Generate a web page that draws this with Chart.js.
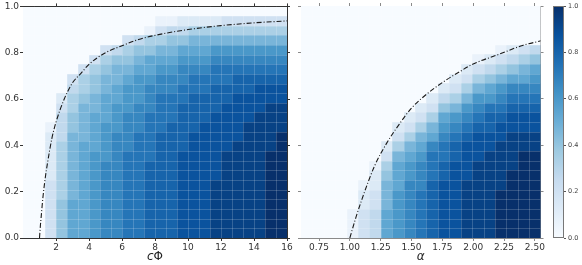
<!DOCTYPE html>
<html>
<head>
<meta charset="utf-8">
<script src="https://cdn.jsdelivr.net/npm/chart.js@4.4.1/dist/chart.umd.min.js"></script>
<style>
  body { margin: 0; background: #fff; }
  #wrap { position: relative; width: 582px; height: 265px; overflow: hidden; }
  #wrap canvas { position: absolute; top: 0; }
</style>
</head>
<body>
<div id="wrap">
  <canvas id="leftChart" width="296" height="265" style="left:0"></canvas>
  <canvas id="rightChart" width="250" height="265" style="left:296px"></canvas>
  <canvas id="barChart" width="36" height="265" style="left:546px"></canvas>
</div>
<script>
// cell centres (x) for both panels, shared row centres (y)
const cPhiCenters = [0.33, 1, 1.67, 2.33, 3, 3.67, 4.33, 5, 5.67, 6.33, 7, 7.67, 8.33, 9, 9.67, 10.33, 11, 11.67, 12.33, 13, 13.67, 14.33, 15, 15.67];
const alphaCenters = [0.65, 0.7425, 0.835, 0.9275, 1.02, 1.1125, 1.205, 1.2975, 1.39, 1.4825, 1.575, 1.6675, 1.76, 1.8525, 1.945, 2.0375, 2.13, 2.2225, 2.315, 2.4075, 2.5];
const yCenters = [0.021, 0.063, 0.104, 0.146, 0.188, 0.229, 0.271, 0.313, 0.354, 0.396, 0.438, 0.479, 0.521, 0.563, 0.604, 0.646, 0.688, 0.729, 0.771, 0.813, 0.854, 0.896, 0.938, 0.979];

// cell values, one hex digit per cell (0..f -> 0..1), top row first
const cPhiRows = [
  '000000000000000000000000',
  '000000000000112222333333',
  '000000000001344555555555',
  '000000000345566777777777',
  '000000034566778889999999',
  '00000035667888999aaaaaaa',
  '00000356778899aaabbbbbbb',
  '000035677899aaabbbbccccc',
  '00004567899aaabbbccccddd',
  '00025678899abbbccccddddd',
  '0003577899aabbccccddddee',
  '000467889aabbbcccddddeee',
  '001467899aabbcccddddeeee',
  '00247789aabbcccdddddeeef',
  '00257889aabbcccddddeeeef',
  '00257899abbbccddddeeeeff',
  '0025789aabbcccddddeeeeff',
  '0025789aabbcccddddeeeeff',
  '0035789aabbcccdddeeeeeff',
  '0035789aabbcccdddeeeeeff',
  '0036889aabbcccdddeeeeeff',
  '0036889aabbcccdddeeeeeff',
  '0036889aabbcccdddeeeeeff',
  '0036889aabbcccdddeeeeeff'
];
const alphaRows = [
  '000000000000000000000',
  '000000000000000000000',
  '000000000000000000000',
  '000000000000000000000',
  '000000000000000001234',
  '000000000000000123456',
  '000000000000002345678',
  '000000000000023567889',
  '000000000000235789aaa',
  '00000000000245799abbb',
  '000000000023679abbccc',
  '00000000023589abccddd',
  '0000000023579abccdddd',
  '000000003578abcdddeee',
  '00000002578abcdddeeee',
  '00000003789bbcddeeeff',
  '0000001589abcddeeeeff',
  '0000002689abcddeeefff',
  '000001278aacddeeeefff',
  '000002379abcddeeeffff',
  '000002379abcddeeeffff',
  '000013489abcddeeeffff',
  '000013489abcddeeeffff',
  '000013489abcddeeeffff'
];

// dash-dot boundary curves
const cPhiCurveX = [1.0, 1.05, 1.1, 1.2, 1.35, 1.5, 1.75, 2, 2.5, 3, 3.5, 4, 5, 6, 7, 8, 10, 12, 14, 16];
const cPhiCurveY = [0, 0.05, 0.09, 0.17, 0.26, 0.33, 0.43, 0.5, 0.6, 0.67, 0.71, 0.75, 0.8, 0.83, 0.857, 0.875, 0.9, 0.917, 0.929, 0.9375];
const alphaCurveX = [1.0, 1.05, 1.1, 1.2, 1.3, 1.4, 1.5, 1.6, 1.75, 1.9, 2.0, 2.2, 2.4, 2.55];
const alphaCurveY = [0, 0.09, 0.17, 0.31, 0.41, 0.49, 0.56, 0.61, 0.67, 0.72, 0.75, 0.79, 0.83, 0.85];

// tick labels
const cPhiTicks = [2, 4, 6, 8, 10, 12, 14, 16];
const alphaTicks = [0.75, 1.0, 1.25, 1.5, 1.75, 2.0, 2.25, 2.5];
const yTicks = [0, 0.2, 0.4, 0.6, 0.8, 1.0];

const FONT = 'DejaVu Sans';
const bluesStops = ['#f7fbff', '#deebf7', '#c6dbef', '#9ecae1', '#6baed6', '#4292c6', '#2171b5', '#08519c', '#08306b'];

function hexRgb(h) {
  return [parseInt(h.slice(1, 3), 16), parseInt(h.slice(3, 5), 16), parseInt(h.slice(5, 7), 16)];
}
function blues(t) {
  t = Math.max(0, Math.min(1, t));
  const p = t * (bluesStops.length - 1);
  const i = Math.min(Math.floor(p), bluesStops.length - 2);
  const f = p - i;
  const a = hexRgb(bluesStops[i]), b = hexRgb(bluesStops[i + 1]);
  const c = a.map((v, k) => Math.round(v + (b[k] - v) * f));
  return `rgb(${c[0]},${c[1]},${c[2]})`;
}
function edgesOf(centers) {
  const e = [centers[0] - (centers[1] - centers[0]) / 2];
  for (let i = 0; i < centers.length - 1; i++) e.push((centers[i] + centers[i + 1]) / 2);
  const n = centers.length;
  e.push(centers[n - 1] + (centers[n - 1] - centers[n - 2]) / 2);
  return e;
}

// draws the cells through the chart's own x / y scales
const heatmapPlugin = {
  id: 'heatmap',
  beforeDatasetsDraw(chart, args, opts) {
    if (!opts.rows) return;
    const { ctx, chartArea: a, scales: { x, y } } = chart;
    const xe = edgesOf(opts.cols).map(v => Math.round(x.getPixelForValue(v)));
    const ye = edgesOf(opts.ys).map(v => Math.round(y.getPixelForValue(v)));
    ctx.save();
    ctx.beginPath();
    ctx.rect(a.left, a.top, a.right - a.left, a.bottom - a.top);
    ctx.clip();
    const nr = opts.ys.length;
    opts.rows.forEach((row, k) => {
      const r = nr - 1 - k;
      for (let c = 0; c < opts.cols.length; c++) {
        ctx.fillStyle = blues(parseInt(row[c], 16) / 15);
        ctx.fillRect(xe[c], ye[r + 1], xe[c + 1] - xe[c], ye[r] - ye[r + 1]);
      }
    });
    ctx.strokeStyle = 'rgba(255,255,255,0.18)';
    ctx.lineWidth = 1;
    ctx.beginPath();
    xe.slice(1, -1).forEach(px => { ctx.moveTo(px + 0.5, a.top); ctx.lineTo(px + 0.5, a.bottom); });
    ye.slice(1, -1).forEach(py => { ctx.moveTo(a.left, py + 0.5); ctx.lineTo(a.right, py + 0.5); });
    ctx.stroke();
    ctx.restore();
  }
};

// x axis label with mixed italic / upright parts
const axisLabelPlugin = {
  id: 'axisLabel',
  afterDraw(chart, args, opts) {
    if (!opts.parts) return;
    const { ctx, chartArea: a } = chart;
    ctx.save();
    ctx.fillStyle = '#222';
    ctx.textBaseline = 'middle';
    const fonts = opts.parts.map(p => `${p.italic ? 'italic ' : ''}${opts.size}px "${FONT}"`);
    let total = 0;
    const widths = opts.parts.map((p, i) => { ctx.font = fonts[i]; const w = ctx.measureText(p.text).width; total += w; return w; });
    let xPos = (a.left + a.right) / 2 - total / 2;
    opts.parts.forEach((p, i) => {
      ctx.font = fonts[i];
      ctx.fillText(p.text, xPos, opts.y);
      xPos += widths[i];
    });
    ctx.restore();
  }
};

const colorbarPlugin = {
  id: 'colorbar',
  beforeDatasetsDraw(chart, args, opts) {
    if (!opts.on) return;
    const { ctx, chartArea: a, scales: { y } } = chart;
    const g = ctx.createLinearGradient(0, y.getPixelForValue(0), 0, y.getPixelForValue(1));
    bluesStops.forEach((c, i) => g.addColorStop(i / (bluesStops.length - 1), c));
    ctx.save();
    ctx.fillStyle = g;
    ctx.fillRect(a.left, a.top, a.right - a.left, a.bottom - a.top);
    ctx.strokeStyle = '#777';
    ctx.lineWidth = 1;
    ctx.strokeRect(a.left + 0.5, a.top + 0.5, a.right - a.left - 1, a.bottom - a.top - 1);
    ctx.restore();
  }
};

Chart.register(heatmapPlugin, axisLabelPlugin, colorbarPlugin);

function tickAxis(pos, min, max, ticks, size, showLabels, fmt, col) {
  const horizontal = pos === 'top' || pos === 'bottom';
  return {
    type: 'linear',
    position: pos,
    min: min,
    max: max,
    afterBuildTicks: s => { s.ticks = ticks.map(v => ({ value: v })); },
    afterFit: s => { if (horizontal) s.height = size; else s.width = size; },
    ticks: {
      display: showLabels,
      autoSkip: false,
      maxRotation: 0,
      padding: 1,
      color: '#333',
      font: { family: FONT, size: 9 },
      callback: v => fmt(v)
    },
    grid: { drawOnChartArea: false, drawTicks: true, tickLength: 3, color: col, lineWidth: 1 },
    border: { display: true, color: col, width: 1 }
  };
}

function curvePoints(xs, ys) {
  return xs.map((v, i) => ({ x: v, y: ys[i] }));
}

function panel(id, cfg) {
  return new Chart(document.getElementById(id), {
    type: 'scatter',
    data: {
      datasets: [{
        data: curvePoints(cfg.curveX, cfg.curveY),
        showLine: true,
        borderColor: '#1a1a1a',
        borderWidth: 1.1,
        borderDash: [5, 2, 1, 2],
        pointRadius: 0,
        cubicInterpolationMode: 'monotone',
        fill: false
      }]
    },
    options: {
      responsive: false,
      animation: false,
      devicePixelRatio: 1,
      layout: { padding: cfg.padding },
      plugins: {
        legend: { display: false },
        tooltip: { enabled: false },
        heatmap: { rows: cfg.rows, cols: cfg.cols, ys: yCenters },
        axisLabel: { parts: cfg.label, size: 12, y: 257 }
      },
      scales: {
        x: tickAxis('bottom', cfg.xmin, cfg.xmax, cfg.xticks, 27, true, cfg.xfmt, cfg.axisColor),
        x2: tickAxis('top', cfg.xmin, cfg.xmax, cfg.xticks, 0, false, cfg.xfmt, cfg.axisColor),
        y: tickAxis('left', 0, 1, yTicks, cfg.yWidth, cfg.yLabels, v => v.toFixed(1), cfg.axisColor),
        y2: tickAxis('right', 0, 1, yTicks, 0, false, v => v.toFixed(1), cfg.axisColor)
      }
    }
  });
}

panel('leftChart', {
  rows: cPhiRows, cols: cPhiCenters,
  curveX: cPhiCurveX, curveY: cPhiCurveY,
  xmin: 0, xmax: 16, xticks: cPhiTicks, xfmt: v => String(v),
  yWidth: 23, yLabels: true,
  padding: { top: 6, right: 9, left: 0, bottom: 0 },
  axisColor: '#333',
  label: [{ text: 'c', italic: true }, { text: 'Φ', italic: false }]
});

panel('rightChart', {
  rows: alphaRows, cols: alphaCenters,
  curveX: alphaCurveX, curveY: alphaCurveY,
  xmin: 0.604, xmax: 2.546, xticks: alphaTicks, xfmt: v => v.toFixed(2),
  yWidth: 5, yLabels: false,
  padding: { top: 6, right: 5, left: 0, bottom: 0 },
  axisColor: '#8a8a8a',
  label: [{ text: 'α', italic: true }]
});

new Chart(document.getElementById('barChart'), {
  type: 'scatter',
  data: { datasets: [] },
  options: {
    responsive: false,
    animation: false,
    devicePixelRatio: 1,
    layout: { padding: { top: 6, bottom: 27, left: 7, right: 0 } },
    plugins: { legend: { display: false }, tooltip: { enabled: false }, colorbar: { on: true } },
    scales: {
      x: { type: 'linear', display: false, min: 0, max: 1 },
      y: {
        type: 'linear',
        position: 'right',
        min: 0,
        max: 1,
        afterBuildTicks: s => { s.ticks = yTicks.map(v => ({ value: v })); },
        afterFit: s => { s.width = 18; },
        ticks: { padding: 2, color: '#444', font: { family: FONT, size: 6.5 }, callback: v => v.toFixed(1) },
        grid: { drawOnChartArea: false, tickLength: 2, color: '#555' },
        border: { display: false }
      }
    }
  }
});
</script>
</body>
</html>
